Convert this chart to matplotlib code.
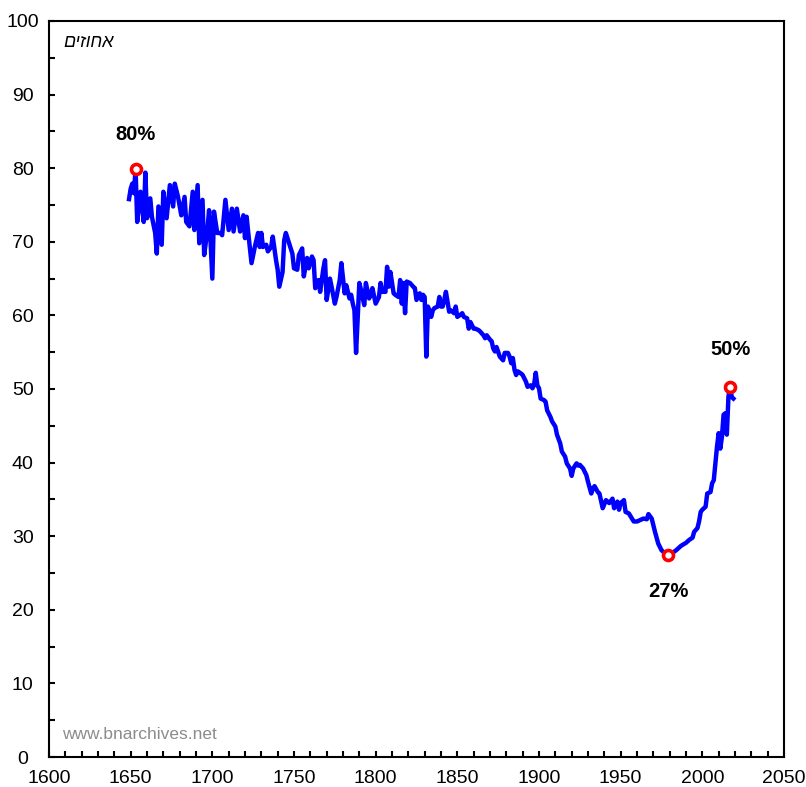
import matplotlib
matplotlib.use("Agg")
import matplotlib.pyplot as plt
from matplotlib.ticker import MultipleLocator

years = [1649, 1650, 1651, 1652, 1653, 1654, 1656, 1658, 1659, 1660, 1662, 1663, 1665, 1666,
         1667, 1669, 1670, 1672, 1674, 1676, 1677, 1679, 1681, 1683, 1684, 1686, 1688, 1689,
         1691, 1692, 1694, 1695, 1697, 1698, 1700, 1701, 1703, 1705, 1706, 1708, 1710, 1712,
         1713, 1715, 1717, 1719, 1720, 1721, 1722, 1724, 1726, 1728, 1729, 1730, 1731, 1733,
         1734, 1736, 1737, 1739, 1740, 1741, 1743, 1744, 1745, 1747, 1749, 1750, 1752, 1753,
         1755, 1756, 1758, 1759, 1761, 1762, 1763, 1765, 1766, 1768, 1769, 1770, 1772, 1773,
         1775, 1776, 1778, 1779, 1781, 1782, 1784, 1785, 1786, 1787, 1788, 1790, 1791, 1793,
         1794, 1796, 1797, 1798, 1800, 1802, 1803, 1804, 1806, 1807, 1808, 1809, 1811, 1812,
         1814, 1815, 1816, 1817, 1818, 1819, 1821, 1823, 1824, 1825, 1827, 1828, 1829, 1830,
         1831, 1832, 1834, 1835, 1836, 1838, 1839, 1840, 1841, 1842, 1843, 1845, 1846, 1848,
         1849, 1850, 1852, 1853, 1854, 1856, 1857, 1858, 1860, 1861, 1863, 1864, 1866, 1867,
         1868, 1870, 1871, 1872, 1873, 1874, 1876, 1878, 1879, 1881, 1882, 1883, 1884, 1885,
         1886, 1887, 1889, 1890, 1892, 1893, 1895, 1896, 1897, 1898, 1899, 1900, 1901, 1903,
         1904, 1905, 1907, 1908, 1910, 1911, 1913, 1914, 1916, 1917, 1919, 1920, 1921, 1923,
         1924, 1925, 1927, 1929, 1930, 1932, 1933, 1934, 1936, 1937, 1939, 1941, 1942, 1943,
         1945, 1946, 1948, 1949, 1950, 1952, 1953, 1955, 1958, 1960, 1962, 1964, 1966, 1967,
         1969, 1971, 1973, 1975, 1977, 1979, 1981, 1984, 1987, 1990, 1992, 1994, 1995, 1997,
         1998, 1999, 2000, 2002, 2003, 2005, 2006, 2007, 2008, 2009, 2010, 2011, 2012, 2013,
         2014, 2015, 2016, 2017, 2018, 2019]

values = [75.8, 77.2, 77.9, 76.6, 79.9, 72.7, 76.8, 72.7, 79.4, 73.2, 75.9, 73.4, 71.2, 68.4,
          74.8, 69.6, 76.8, 73.2, 77.7, 74.8, 77.9, 76.1, 73.6, 76.1, 72.7, 72.1, 76.8, 71.6,
          77.7, 69.8, 75.7, 68.2, 71.6, 74.3, 65.0, 74.1, 71.2, 71.2, 70.9, 75.7, 71.6, 74.5,
          71.4, 74.5, 71.4, 73.6, 70.5, 73.4, 71.2, 67.1, 69.3, 71.2, 69.3, 71.2, 69.3, 69.6,
          68.7, 69.3, 70.7, 67.5, 66.2, 63.9, 65.9, 70.2, 71.2, 69.8, 68.4, 66.4, 66.2, 68.2,
          69.1, 65.3, 67.8, 66.4, 68.0, 67.5, 63.7, 64.8, 63.2, 66.4, 67.5, 62.1, 65.0, 63.9,
          61.6, 62.5, 64.8, 67.1, 63.0, 64.1, 62.3, 62.8, 61.6, 60.7, 54.9, 64.4, 63.5, 61.4,
          64.4, 62.3, 62.8, 63.7, 61.6, 62.5, 64.4, 63.2, 63.2, 66.6, 63.9, 65.9, 63.0, 62.8,
          62.5, 64.8, 61.6, 64.4, 60.3, 64.6, 64.4, 63.9, 63.7, 62.1, 63.0, 62.1, 62.8, 62.5,
          54.4, 61.2, 59.8, 60.7, 61.0, 61.2, 62.5, 61.2, 61.2, 62.1, 63.2, 60.5, 60.7, 60.3,
          61.2, 59.8, 60.1, 60.3, 59.8, 59.6, 58.2, 59.1, 58.2, 58.2, 58.0, 57.8, 57.3, 56.9,
          57.3, 56.7, 56.5, 55.5, 55.1, 55.7, 54.4, 53.9, 54.9, 54.9, 54.4, 53.5, 54.2, 52.6,
          51.9, 52.4, 52.1, 51.9, 51.0, 50.3, 50.5, 50.1, 50.6, 52.2, 50.5, 50.1, 48.7, 48.5,
          48.3, 47.1, 46.2, 45.6, 44.9, 43.8, 42.6, 41.5, 40.8, 39.9, 39.2, 38.2, 39.2, 39.9,
          39.6, 39.7, 39.2, 38.3, 37.4, 35.8, 36.5, 36.8, 36.0, 35.8, 33.8, 34.9, 34.7, 34.5,
          35.1, 33.8, 34.7, 33.6, 34.5, 34.9, 33.3, 33.1, 32.0, 32.0, 32.2, 32.4, 32.3, 33.0,
          32.4, 30.6, 29.0, 28.1, 27.7, 27.4, 27.6, 28.1, 28.7, 29.1, 29.5, 29.8, 30.6, 31.1,
          32.0, 33.3, 33.6, 34.0, 35.8, 36.0, 37.2, 37.6, 39.9, 42.2, 44.0, 41.9, 43.5, 46.5,
          46.7, 43.8, 49.0, 50.3, 48.9, 48.7]

highlight_years = [1653, 1979, 2017]
label_offsets_px = [(0, 34), (0, -36), (0, 37)]

y_label = "אחוזים"
watermark = "www.bnarchives.net"

plt.rcParams['font.family'] = ['Liberation Sans', 'DejaVu Sans']

fig = plt.figure(figsize=(8.06, 7.87), dpi=100)
ax = fig.add_axes([49/806, 1 - 757/787, 735/806, 736/787])

ax.plot(years, values, color='#0000FF', lw=3.2, solid_joinstyle='round', zorder=2)

for yr, off in zip(highlight_years, label_offsets_px):
    v = values[years.index(yr)]
    ax.plot([yr], [v], 'o', ms=7.2, mfc='white', mec='#FF0000', mew=2.6, zorder=3)
    ax.annotate(f"{round(v)}%", (yr, v), xytext=off, textcoords='offset pixels',
                ha='center', va='center', fontsize=14.5, fontweight='bold')

ax.set_xlim(1600, 2050)
ax.set_ylim(0, 100)
ax.xaxis.set_major_locator(MultipleLocator(50))
ax.xaxis.set_minor_locator(MultipleLocator(10))
ax.yaxis.set_major_locator(MultipleLocator(10))
ax.yaxis.set_minor_locator(MultipleLocator(5))
ax.tick_params(which='both', direction='in', width=1.5, labelsize=14)
ax.tick_params(which='major', length=4.5)
ax.tick_params(which='minor', length=4.5)
ax.tick_params(axis='y', pad=19)
ax.tick_params(axis='x', pad=9.5)
for lbl in ax.get_yticklabels():
    lbl.set_horizontalalignment('center')
for s in ax.spines.values():
    s.set_linewidth(1.5)

ax.text(1608.5, 97.1, y_label[::-1], fontsize=13, style='italic', ha='left', va='center')
ax.text(1608, 3.0, watermark, fontsize=12.5, color='#8c8c8c', ha='left', va='center')

fig.savefig('out.png', dpi=100)
